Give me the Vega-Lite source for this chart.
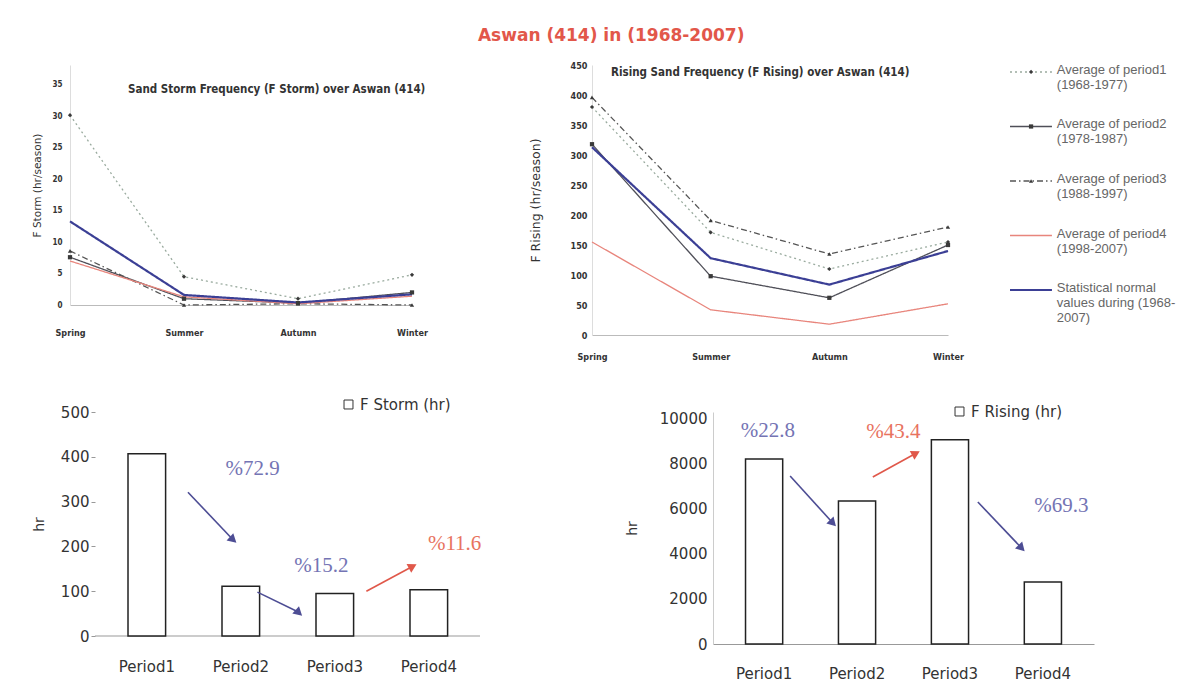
{
  "$schema": "https://vega.github.io/schema/vega-lite/v6.json",
  "background": "white",
  "padding": {"left": 32, "top": 27, "right": 4, "bottom": 2},
  "title": {
    "text": "Aswan (414) in (1968-2007)",
    "color": "#e2574a",
    "fontSize": 17,
    "font": "DejaVu Sans",
    "fontWeight": "bold",
    "anchor": "middle",
    "offset": 16
  },
  "config": {
    "font": "Liberation Sans",
    "view": {"stroke": null},
    "axis": {"grid": false, "labelColor": "#333", "titleColor": "#333", "domainColor": "#bbb", "tickColor": "#999"},
    "text": {"lineBreak": "\n"}
  },
  "datasets": {
    "seasonal": [
      {"chart": "storm", "season": "Spring", "series": "Period1", "value": 30.2},
      {"chart": "storm", "season": "Summer", "series": "Period1", "value": 4.5},
      {"chart": "storm", "season": "Autumn", "series": "Period1", "value": 1.0},
      {"chart": "storm", "season": "Winter", "series": "Period1", "value": 4.8},
      {"chart": "storm", "season": "Spring", "series": "Period2", "value": 7.6},
      {"chart": "storm", "season": "Summer", "series": "Period2", "value": 1.0},
      {"chart": "storm", "season": "Autumn", "series": "Period2", "value": 0.3},
      {"chart": "storm", "season": "Winter", "series": "Period2", "value": 2.0},
      {"chart": "storm", "season": "Spring", "series": "Period3", "value": 8.6},
      {"chart": "storm", "season": "Summer", "series": "Period3", "value": 0.0},
      {"chart": "storm", "season": "Autumn", "series": "Period3", "value": 0.2},
      {"chart": "storm", "season": "Winter", "series": "Period3", "value": 0.0},
      {"chart": "storm", "season": "Spring", "series": "Period4", "value": 7.0},
      {"chart": "storm", "season": "Summer", "series": "Period4", "value": 1.3},
      {"chart": "storm", "season": "Autumn", "series": "Period4", "value": 0.2},
      {"chart": "storm", "season": "Winter", "series": "Period4", "value": 1.4},
      {"chart": "storm", "season": "Spring", "series": "Normal", "value": 13.3},
      {"chart": "storm", "season": "Summer", "series": "Normal", "value": 1.6},
      {"chart": "storm", "season": "Autumn", "series": "Normal", "value": 0.4},
      {"chart": "storm", "season": "Winter", "series": "Normal", "value": 1.7},
      {"chart": "rising", "season": "Spring", "series": "Period1", "value": 380},
      {"chart": "rising", "season": "Summer", "series": "Period1", "value": 171},
      {"chart": "rising", "season": "Autumn", "series": "Period1", "value": 110},
      {"chart": "rising", "season": "Winter", "series": "Period1", "value": 155},
      {"chart": "rising", "season": "Spring", "series": "Period2", "value": 318},
      {"chart": "rising", "season": "Summer", "series": "Period2", "value": 98},
      {"chart": "rising", "season": "Autumn", "series": "Period2", "value": 62},
      {"chart": "rising", "season": "Winter", "series": "Period2", "value": 150},
      {"chart": "rising", "season": "Spring", "series": "Period3", "value": 396},
      {"chart": "rising", "season": "Summer", "series": "Period3", "value": 191},
      {"chart": "rising", "season": "Autumn", "series": "Period3", "value": 135},
      {"chart": "rising", "season": "Winter", "series": "Period3", "value": 180},
      {"chart": "rising", "season": "Spring", "series": "Period4", "value": 155},
      {"chart": "rising", "season": "Summer", "series": "Period4", "value": 42},
      {"chart": "rising", "season": "Autumn", "series": "Period4", "value": 18},
      {"chart": "rising", "season": "Winter", "series": "Period4", "value": 52},
      {"chart": "rising", "season": "Spring", "series": "Normal", "value": 313},
      {"chart": "rising", "season": "Summer", "series": "Normal", "value": 128},
      {"chart": "rising", "season": "Autumn", "series": "Normal", "value": 84},
      {"chart": "rising", "season": "Winter", "series": "Normal", "value": 140}
    ],
    "series_key": [
      {"series": "Period1", "label": "Average of period1\n(1968-1977)"},
      {"series": "Period2", "label": "Average of period2\n(1978-1987)"},
      {"series": "Period3", "label": "Average of period3\n(1988-1997)"},
      {"series": "Period4", "label": "Average of period4\n(1998-2007)"},
      {"series": "Normal", "label": "Statistical normal\nvalues  during (1968-\n2007)"}
    ],
    "storm_total": [
      {"period": "Period1", "hours": 407, "measure": "F Storm (hr)"},
      {"period": "Period2", "hours": 111, "measure": "F Storm (hr)"},
      {"period": "Period3", "hours": 95, "measure": "F Storm (hr)"},
      {"period": "Period4", "hours": 103, "measure": "F Storm (hr)"}
    ],
    "rising_total": [
      {"period": "Period1", "hours": 8220, "measure": "F Rising  (hr)"},
      {"period": "Period2", "hours": 6350, "measure": "F Rising  (hr)"},
      {"period": "Period3", "hours": 9080, "measure": "F Rising  (hr)"},
      {"period": "Period4", "hours": 2750, "measure": "F Rising  (hr)"}
    ],
    "storm_change": [
      {"from_x": 0.99, "from_y": 321, "to_x": 1.46, "to_y": 217, "label": "%72.9", "label_x": 1.68, "label_y": 372, "trend": "decrease"},
      {"from_x": 1.73, "from_y": 98, "to_x": 2.16, "to_y": 54, "label": "%15.2", "label_x": 2.41, "label_y": 156, "trend": "decrease"},
      {"from_x": 2.89, "from_y": 100, "to_x": 3.37, "to_y": 154, "label": "%11.6", "label_x": 3.83, "label_y": 205, "trend": "increase"}
    ],
    "rising_change": [
      {"from_x": 0.83, "from_y": 7467, "to_x": 1.28, "to_y": 5422, "label": "%22.8", "label_x": 0.59, "label_y": 9467, "trend": "decrease"},
      {"from_x": 1.72, "from_y": 7422, "to_x": 2.17, "to_y": 8444, "label": "%43.4", "label_x": 1.94, "label_y": 9422, "trend": "increase"},
      {"from_x": 2.85, "from_y": 6311, "to_x": 3.31, "to_y": 4311, "label": "%69.3", "label_x": 3.75, "label_y": 6133, "trend": "decrease"}
    ]
  },
  "resolve": {"scale": {"fill": "independent"}, "legend": {"fill": "independent"}},
  "spacing": 36,
  "align": "none",
  "vconcat": [
    {
      "spacing": 101,
      "hconcat": [
        {
          "width": 342,
          "height": 240,
          "title": {"text": "Sand Storm Frequency (F Storm) over Aswan (414)", "anchor": "start", "frame": "group", "dx": 58, "offset": -41, "baseline": "bottom", "fontSize": 11.5, "font": "Liberation Sans Narrow, DejaVu Sans Condensed, Liberation Sans", "fontWeight": "bold", "color": "#333"},
          "data": {"name": "seasonal"},
          "transform": [{"filter": "datum.chart == 'storm'"}],
          "encoding": {
            "x": {"field": "season", "type": "ordinal", "sort": ["Spring", "Summer", "Autumn", "Winter"], "scale": {"type": "point", "padding": 0},
              "axis": {"title": null, "labelAngle": 0, "ticks": false, "labelPadding": 23, "labelFontSize": 9, "labelFont": "Liberation Sans Narrow, DejaVu Sans Condensed, Liberation Sans", "labelFontWeight": "bold"}},
            "y": {"field": "value", "type": "quantitative", "scale": {"domain": [0, 38.18], "nice": false},
              "axis": {"title": "F Storm (hr/season)", "values": [0, 5, 10, 15, 20, 25, 30, 35], "ticks": false, "labelPadding": 8, "labelFontSize": 8, "labelFont": "Liberation Sans Narrow, DejaVu Sans Condensed, Liberation Sans", "labelFontWeight": "bold", "titlePadding": 9, "titleFontSize": 10.5, "titleFont": "DejaVu Sans", "titleFontWeight": "normal", "domainColor": "#ddd"}}
          },
          "layer": [
            {
              "mark": {"type": "line"},
              "encoding": {
                "color": {"field": "series", "type": "nominal", "scale": {"domain": ["Period1", "Period2", "Period3", "Period4", "Normal"], "range": ["#9aab9f", "#4f4f58", "#555555", "#e8857c", "#3b3f95"]}, "legend": null},
                "strokeDash": {"field": "series", "type": "nominal", "scale": {"domain": ["Period1", "Period2", "Period3", "Period4", "Normal"], "range": [[2, 3], [1, 0], [6, 3, 1.5, 3], [1, 0], [1, 0]]}, "legend": null},
                "strokeWidth": {"condition": {"test": "datum.series == 'Normal'", "value": 2.2}, "value": 1.3}
              }
            },
            {
              "transform": [{"filter": "datum.series != 'Period4' && datum.series != 'Normal'"}],
              "mark": {"type": "point", "filled": true, "size": 18, "color": "#3a3a3a", "opacity": 1},
              "encoding": {
                "shape": {"field": "series", "type": "nominal", "scale": {"domain": ["Period1", "Period2", "Period3"], "range": ["diamond", "square", "triangle-up"]}, "legend": null}
              }
            }
          ]
        },
        {
          "spacing": 62,
          "bounds": "flush",
          "hconcat": [
            {
              "width": 356,
              "height": 270,
              "title": {"text": "Rising Sand Frequency (F Rising) over Aswan (414)", "anchor": "start", "frame": "group", "dx": 19, "offset": -28, "baseline": "bottom", "fontSize": 11.5, "font": "Liberation Sans Narrow, DejaVu Sans Condensed, Liberation Sans", "fontWeight": "bold", "color": "#333"},
              "data": {"name": "seasonal"},
              "transform": [{"filter": "datum.chart == 'rising'"}],
              "encoding": {
                "x": {"field": "season", "type": "ordinal", "sort": ["Spring", "Summer", "Autumn", "Winter"], "scale": {"type": "point", "padding": 0},
                  "axis": {"title": null, "labelAngle": 0, "ticks": false, "labelPadding": 17, "labelFontSize": 9, "labelFont": "Liberation Sans Narrow, DejaVu Sans Condensed, Liberation Sans", "labelFontWeight": "bold"}},
                "y": {"field": "value", "type": "quantitative", "scale": {"domain": [0, 450], "nice": false},
                  "axis": {"title": "F Rising (hr/season)", "values": [0, 50, 100, 150, 200, 250, 300, 350, 400, 450], "ticks": false, "labelPadding": 5, "labelFontSize": 9, "labelFont": "Liberation Sans Narrow, DejaVu Sans Condensed, Liberation Sans", "labelFontWeight": "bold", "titlePadding": 28, "titleFontSize": 12.5, "titleFont": "DejaVu Sans", "titleFontWeight": "normal", "domainColor": "#ddd"}}
              },
              "layer": [
                {
                  "mark": {"type": "line"},
                  "encoding": {
                    "color": {"field": "series", "type": "nominal", "scale": {"domain": ["Period1", "Period2", "Period3", "Period4", "Normal"], "range": ["#9aab9f", "#4f4f58", "#555555", "#e8857c", "#3b3f95"]}, "legend": null},
                    "strokeDash": {"field": "series", "type": "nominal", "scale": {"domain": ["Period1", "Period2", "Period3", "Period4", "Normal"], "range": [[2, 3], [1, 0], [6, 3, 1.5, 3], [1, 0], [1, 0]]}, "legend": null},
                    "strokeWidth": {"condition": {"test": "datum.series == 'Normal'", "value": 2.2}, "value": 1.3}
                  }
                },
                {
                  "transform": [{"filter": "datum.series != 'Period4' && datum.series != 'Normal'"}],
                  "mark": {"type": "point", "filled": true, "size": 18, "color": "#3a3a3a", "opacity": 1},
                  "encoding": {
                    "shape": {"field": "series", "type": "nominal", "scale": {"domain": ["Period1", "Period2", "Period3"], "range": ["diamond", "square", "triangle-up"]}, "legend": null}
                  }
                }
              ]
            },
            {
              "width": 180,
              "height": 232,
              "data": {"name": "series_key"},
              "encoding": {
                "y": {"field": "series", "type": "nominal", "sort": ["Period1", "Period2", "Period3", "Period4", "Normal"], "scale": {"type": "point", "padding": 0.128}, "axis": null}
              },
              "layer": [
                {
                  "mark": {"type": "rule"},
                  "encoding": {
                    "x": {"datum": 0, "type": "quantitative", "scale": {"domain": [0, 1], "nice": false, "zero": false}, "axis": null},
                    "x2": {"datum": 0.233},
                    "color": {"field": "series", "type": "nominal", "scale": {"domain": ["Period1", "Period2", "Period3", "Period4", "Normal"], "range": ["#9aab9f", "#4f4f58", "#555555", "#e8857c", "#3b3f95"]}, "legend": null},
                    "strokeDash": {"field": "series", "type": "nominal", "scale": {"domain": ["Period1", "Period2", "Period3", "Period4", "Normal"], "range": [[2, 3], [1, 0], [6, 3, 1.5, 3], [1, 0], [1, 0]]}, "legend": null},
                    "strokeWidth": {"condition": {"test": "datum.series == 'Normal'", "value": 2.2}, "value": 1.3}
                  }
                },
                {
                  "transform": [{"filter": "datum.series != 'Period4' && datum.series != 'Normal'"}],
                  "mark": {"type": "point", "filled": true, "size": 18, "color": "#3a3a3a", "opacity": 1},
                  "encoding": {
                    "x": {"datum": 0.117, "type": "quantitative"},
                    "shape": {"field": "series", "type": "nominal", "scale": {"domain": ["Period1", "Period2", "Period3"], "range": ["diamond", "square", "triangle-up"]}, "legend": null}
                  }
                },
                {
                  "mark": {"type": "text", "align": "left", "baseline": "top", "dy": -8, "lineHeight": 15, "fontSize": 13, "font": "Liberation Sans", "color": "#666"},
                  "encoding": {
                    "x": {"datum": 0.26, "type": "quantitative"},
                    "text": {"field": "label"}
                  }
                }
              ]
            }
          ]
        }
      ]
    },
    {
      "spacing": 233,
      "bounds": "flush",
      "resolve": {"scale": {"fill": "independent"}, "legend": {"fill": "independent"}},
      "hconcat": [
        {
          "width": 410,
          "height": 224,
          "resolve": {"scale": {"x": "independent"}},
          "layer": [
            {
              "data": {"name": "storm_total"},
              "transform": [{"aggregate": [{"op": "count", "as": "bars"}]}],
              "mark": {"type": "rule", "color": "#999", "strokeWidth": 1},
              "encoding": {
                "x": {"datum": 0, "type": "quantitative", "scale": {"domain": [-0.266, 4.1], "nice": false, "zero": false}, "axis": null},
                "x2": {"datum": 4.1},
                "y": {"datum": 0, "type": "quantitative"}
              }
            },
            {
              "data": {"name": "storm_total"},
              "mark": {"type": "bar", "stroke": "#222", "strokeWidth": 1.5},
              "encoding": {
                "x": {"field": "period", "type": "nominal", "scale": {"paddingInner": 0.6, "paddingOuter": 0.4809, "align": 0.6416},
                  "axis": {"title": null, "labelAngle": 0, "ticks": false, "domain": false, "labelPadding": 23, "labelFontSize": 15, "labelFont": "DejaVu Sans"}},
                "y": {"field": "hours", "type": "quantitative", "scale": {"domain": [0, 500], "nice": false},
                  "axis": {"title": "hr", "values": [0, 100, 200, 300, 400, 500], "offset": -25, "domain": false, "tickSize": 4, "labelPadding": 2, "labelFontSize": 15, "labelFont": "DejaVu Sans", "titleFontSize": 14, "titleFont": "DejaVu Sans", "titlePadding": 14, "titleFontWeight": "normal"}},
                "fill": {"field": "measure", "type": "nominal", "scale": {"range": ["white"]},
                  "legend": {"orient": "none", "legendX": 271, "legendY": -15, "title": null, "symbolType": "square", "symbolStrokeColor": "#333", "symbolStrokeWidth": 1, "symbolSize": 80, "labelFontSize": 15, "labelFont": "DejaVu Sans", "labelColor": "#333"}}
              }
            },
            {
              "data": {"name": "storm_change"},
              "mark": {"type": "rule", "strokeWidth": 1.6},
              "encoding": {
                "x": {"field": "from_x", "type": "quantitative", "scale": {"domain": [-0.266, 4.1], "nice": false, "zero": false}, "axis": null},
                "x2": {"field": "to_x"},
                "y": {"field": "from_y", "type": "quantitative"},
                "y2": {"field": "to_y"},
                "color": {"condition": {"test": "datum.trend == 'increase'", "value": "#e0584a"}, "value": "#4d4d94"}
              }
            },
            {
              "data": {"name": "storm_change"},
              "mark": {"type": "point", "shape": "triangle", "filled": true, "size": 100, "opacity": 1},
              "encoding": {
                "x": {"field": "to_x", "type": "quantitative", "scale": {"domain": [-0.266, 4.1], "nice": false, "zero": false}, "axis": null},
                "y": {"field": "to_y", "type": "quantitative"},
                "angle": {"condition": {"test": "datum.trend == 'increase'", "value": 62}, "value": 132},
                "color": {"condition": {"test": "datum.trend == 'increase'", "value": "#e0584a"}, "value": "#4d4d94"}
              }
            },
            {
              "data": {"name": "storm_change"},
              "mark": {"type": "text", "font": "Liberation Serif", "fontSize": 21},
              "encoding": {
                "x": {"field": "label_x", "type": "quantitative", "scale": {"domain": [-0.266, 4.1], "nice": false, "zero": false}, "axis": null},
                "y": {"field": "label_y", "type": "quantitative"},
                "text": {"field": "label"},
                "color": {"condition": {"test": "datum.trend == 'increase'", "value": "#e8735f"}, "value": "#7474b4"}
              }
            }
          ]
        },
        {
          "width": 381,
          "height": 232,
          "resolve": {"scale": {"x": "independent"}},
          "layer": [
            {
              "data": {"name": "rising_total"},
              "mark": {"type": "bar", "stroke": "#222", "strokeWidth": 1.5},
              "encoding": {
                "x": {"field": "period", "type": "nominal", "scale": {"paddingInner": 0.6, "paddingOuter": 0.35},
                  "axis": {"title": null, "labelAngle": 0, "ticks": false, "labelPadding": 22, "labelFontSize": 15, "labelFont": "DejaVu Sans", "domainColor": "#999"}},
                "y": {"field": "hours", "type": "quantitative", "scale": {"domain": [0, 10311], "nice": false},
                  "axis": {"title": "hr", "values": [0, 2000, 4000, 6000, 8000, 10000], "format": "d", "domainColor": "#ccc", "ticks": false, "labelPadding": 6, "labelFontSize": 15, "labelFont": "DejaVu Sans", "titleFontSize": 14, "titleFont": "DejaVu Sans", "titlePadding": 20, "titleFontWeight": "normal"}},
                "fill": {"field": "measure", "type": "nominal", "scale": {"range": ["white"]},
                  "legend": {"orient": "none", "legendX": 239, "legendY": -8, "title": null, "symbolType": "square", "symbolStrokeColor": "#333", "symbolStrokeWidth": 1, "symbolSize": 80, "labelFontSize": 15, "labelFont": "DejaVu Sans", "labelColor": "#333"}}
              }
            },
            {
              "data": {"name": "rising_change"},
              "mark": {"type": "rule", "strokeWidth": 1.6},
              "encoding": {
                "x": {"field": "from_x", "type": "quantitative", "scale": {"domain": [0, 4.1], "nice": false, "zero": false}, "axis": null},
                "x2": {"field": "to_x"},
                "y": {"field": "from_y", "type": "quantitative"},
                "y2": {"field": "to_y"},
                "color": {"condition": {"test": "datum.trend == 'increase'", "value": "#e0584a"}, "value": "#4d4d94"}
              }
            },
            {
              "data": {"name": "rising_change"},
              "mark": {"type": "point", "shape": "triangle", "filled": true, "size": 100, "opacity": 1},
              "encoding": {
                "x": {"field": "to_x", "type": "quantitative", "scale": {"domain": [0, 4.1], "nice": false, "zero": false}, "axis": null},
                "y": {"field": "to_y", "type": "quantitative"},
                "angle": {"condition": {"test": "datum.trend == 'increase'", "value": 62}, "value": 136},
                "color": {"condition": {"test": "datum.trend == 'increase'", "value": "#e0584a"}, "value": "#4d4d94"}
              }
            },
            {
              "data": {"name": "rising_change"},
              "mark": {"type": "text", "font": "Liberation Serif", "fontSize": 21},
              "encoding": {
                "x": {"field": "label_x", "type": "quantitative", "scale": {"domain": [0, 4.1], "nice": false, "zero": false}, "axis": null},
                "y": {"field": "label_y", "type": "quantitative"},
                "text": {"field": "label"},
                "color": {"condition": {"test": "datum.trend == 'increase'", "value": "#e8735f"}, "value": "#7474b4"}
              }
            }
          ]
        }
      ]
    }
  ]
}
